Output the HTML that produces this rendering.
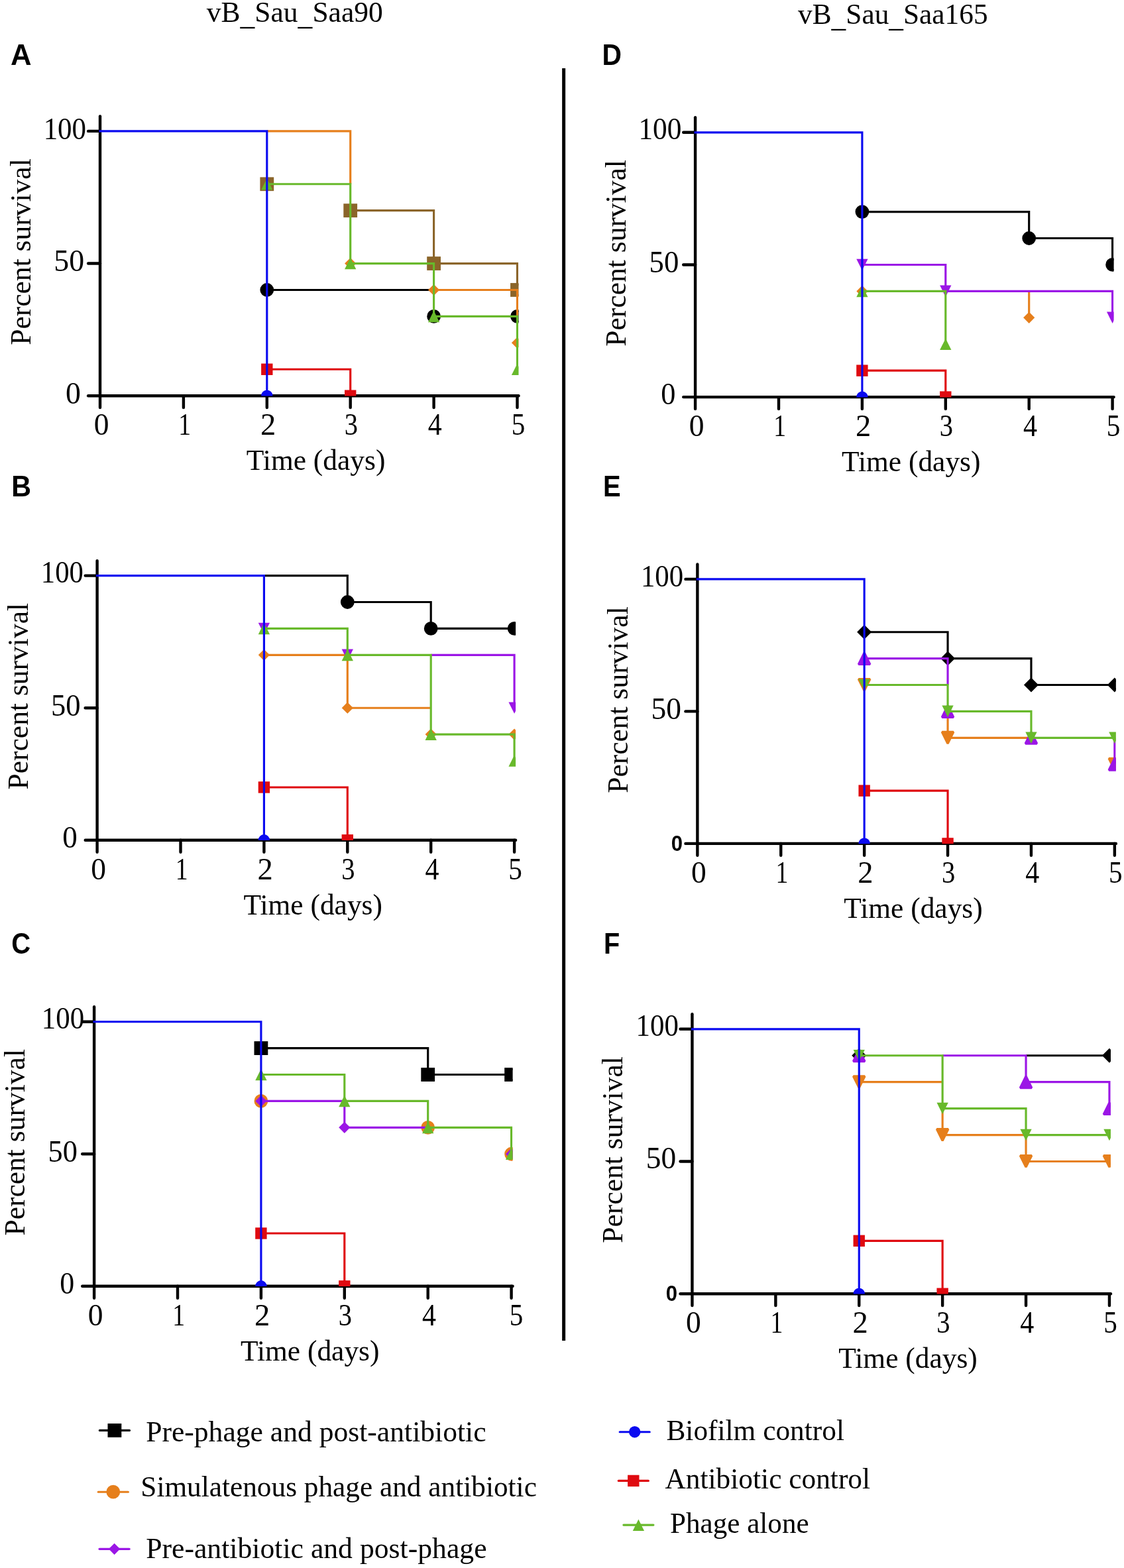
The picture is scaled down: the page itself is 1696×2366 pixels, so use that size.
<!DOCTYPE html>
<html lang="en"><head><meta charset="utf-8"><title>Percent survival: vB_Sau_Saa90 and vB_Sau_Saa165</title>
<style>html,body{margin:0;padding:0;background:#fff}svg{display:block}text{font-family:'Liberation Serif','Times New Roman',serif;font-size:45.3px;fill:#000}.b{font-family:'Liberation Sans',Arial,sans-serif;font-weight:bold}.d{font-size:46px}.l{fill:none;stroke-width:3.15}</style>
</head><body>
<svg xmlns="http://www.w3.org/2000/svg" width="1696" height="2366" viewBox="0 0 1696 2366">
<rect width="1696" height="2366" fill="#fff"/>
<text transform="translate(311.8 33) scale(0.9611 1)">vB<tspan dy="4.3">_</tspan><tspan dy="-4.3">Sau</tspan><tspan dy="4.3">_</tspan><tspan dy="-4.3">Saa90</tspan></text>
<text transform="translate(1204 36) scale(0.9573 1)">vB<tspan dy="4.3">_</tspan><tspan dy="-4.3">Sau</tspan><tspan dy="4.3">_</tspan><tspan dy="-4.3">Saa165</tspan></text>
<line x1="850.65" y1="103.1" x2="850.65" y2="2022.9" stroke="#000" stroke-width="5"/>
<g id="panelA">
<g stroke="#000" stroke-width="4.4" stroke-linecap="round" fill="none">
<path d="M151 175.4V615.1"/>
<path d="M133.1 597.2H782.5"/>
<path d="M133.1 397.55H151"/>
<path d="M133.1 197.9H151"/>
<path d="M276.9 597.2V615.1"/>
<path d="M402.8 597.2V615.1"/>
<path d="M528.7 597.2V615.1"/>
<path d="M654.6 597.2V615.1"/>
<path d="M780.5 597.2V615.1"/>
</g>
<clipPath id="cA"><rect x="121" y="157.9" width="661.5" height="439.6"/></clipPath>
<g clip-path="url(#cA)">
<path class="l" d="M402.8 437.48L654.6 437.48" stroke="#000000"/>
<circle cx="402.8" cy="437.48" r="8.7" fill="#000000" stroke="#000000" stroke-width="3.4" stroke-miterlimit="1.6"/>
<circle cx="654.6" cy="477.41" r="8.7" fill="#000000" stroke="#000000" stroke-width="3.4" stroke-miterlimit="1.6"/>
<circle cx="780.5" cy="477.41" r="8.7" fill="#000000" stroke="#000000" stroke-width="3.4" stroke-miterlimit="1.6"/>
<path class="l" d="M528.7 317.69L654.6 317.69L654.6 397.55L780.5 397.55L780.5 437.48" stroke="#8b652a"/>
<rect x="394.1" y="269.06" width="17.4" height="17.4" fill="#8b652a" stroke="#8b652a" stroke-width="3.4" stroke-miterlimit="1.6"/>
<rect x="520" y="308.99" width="17.4" height="17.4" fill="#8b652a" stroke="#8b652a" stroke-width="3.4" stroke-miterlimit="1.6"/>
<rect x="645.9" y="388.85" width="17.4" height="17.4" fill="#8b652a" stroke="#8b652a" stroke-width="3.4" stroke-miterlimit="1.6"/>
<rect x="771.8" y="428.78" width="17.4" height="17.4" fill="#8b652a" stroke="#8b652a" stroke-width="3.4" stroke-miterlimit="1.6"/>
<path class="l" d="M402.8 197.9L528.7 197.9L528.7 277.76M654.6 437.48L780.5 437.48L780.5 477.41" stroke="#e67f1c"/>
<polygon points="520.1,397.55 528.7,388.95 537.3,397.55 528.7,406.15" fill="#e67f1c"/>
<polygon points="646,437.48 654.6,428.88 663.2,437.48 654.6,446.08" fill="#e67f1c"/>
<polygon points="771.9,517.34 780.5,508.74 789.1,517.34 780.5,525.94" fill="#e67f1c"/>
<path class="l" d="M402.8 277.76L528.7 277.76L528.7 397.55L654.6 397.55L654.6 477.41L780.5 477.41L780.5 557.27" stroke="#68b92b"/>
<polygon points="394.15,286.56 402.8,269.16 411.45,286.56" fill="#68b92b"/>
<polygon points="520.05,406.35 528.7,388.95 537.35,406.35" fill="#68b92b"/>
<polygon points="645.95,486.21 654.6,468.81 663.25,486.21" fill="#68b92b"/>
<polygon points="771.85,566.07 780.5,548.67 789.15,566.07" fill="#68b92b"/>
<path class="l" d="M402.8 557.27L528.7 557.27L528.7 597.2" stroke="#df0a10"/>
<rect x="394.1" y="548.57" width="17.4" height="17.4" fill="#df0a10"/>
<rect x="520" y="588.5" width="17.4" height="17.4" fill="#df0a10"/>
<path class="l" d="M149.43 197.9L402.8 197.9L402.8 597.2" stroke="#0a0af0"/>
<circle cx="402.8" cy="597.2" r="8.7" fill="#0a0af0"/>
</g>
<text transform="translate(65.63 209.6) scale(0.9335 1)" class="d">100</text>
<text transform="translate(81.24 408.9) scale(0.9958 1)" class="d">50</text>
<text transform="translate(98.96 608.5) scale(0.9951 1)" class="d">0</text>
<text transform="translate(141.67 655.9) scale(0.9899 1)" class="d">0</text>
<text transform="translate(278.6 655.9) scale(0.82 1)" text-anchor="middle" class="d">1</text>
<text transform="translate(393.01 655.9) scale(1.0114 1)" class="d">2</text>
<text transform="translate(519.75 655.9) scale(0.8841 1)" class="d">3</text>
<text transform="translate(645.78 655.9) scale(0.9119 1)" class="d">4</text>
<text transform="translate(771.71 655.9) scale(0.8958 1)" class="d">5</text>
<text transform="translate(371.82 709.1) scale(0.959 1)">Time (days)</text>
<text transform="translate(46 520.75) rotate(-90) scale(0.9608 1)">Percent survival</text>
<text transform="translate(16.06 97.85) scale(0.9748 1)" class="b" style="font-size:44.8px">A</text>
</g>
<g id="panelB">
<g stroke="#000" stroke-width="4.4" stroke-linecap="round" fill="none">
<path d="M146.6 846.1V1285.7"/>
<path d="M128.7 1267.8H778.1"/>
<path d="M128.7 1068.2H146.6"/>
<path d="M128.7 868.6H146.6"/>
<path d="M272.5 1267.8V1285.7"/>
<path d="M398.4 1267.8V1285.7"/>
<path d="M524.3 1267.8V1285.7"/>
<path d="M650.2 1267.8V1285.7"/>
<path d="M776.1 1267.8V1285.7"/>
</g>
<clipPath id="cB"><rect x="116.6" y="828.6" width="661.5" height="439.5"/></clipPath>
<g clip-path="url(#cB)">
<path class="l" d="M398.4 868.6L524.3 868.6L524.3 908.52L650.2 908.52L650.2 948.44L776.1 948.44" stroke="#000000"/>
<circle cx="524.3" cy="908.52" r="8.7" fill="#000000" stroke="#000000" stroke-width="3.4" stroke-miterlimit="1.6"/>
<circle cx="650.2" cy="948.44" r="8.7" fill="#000000" stroke="#000000" stroke-width="3.4" stroke-miterlimit="1.6"/>
<circle cx="776.1" cy="948.44" r="8.7" fill="#000000" stroke="#000000" stroke-width="3.4" stroke-miterlimit="1.6"/>
<path class="l" d="M398.4 988.36L524.3 988.36L524.3 1068.2L650.2 1068.2" stroke="#e67f1c"/>
<polygon points="389.8,988.36 398.4,979.76 407,988.36 398.4,996.96" fill="#e67f1c"/>
<polygon points="515.7,1068.2 524.3,1059.6 532.9,1068.2 524.3,1076.8" fill="#e67f1c"/>
<polygon points="641.6,1108.12 650.2,1099.52 658.8,1108.12 650.2,1116.72" fill="#e67f1c"/>
<polygon points="767.5,1108.12 776.1,1099.52 784.7,1108.12 776.1,1116.72" fill="#e67f1c"/>
<path class="l" d="M650.2 988.36L776.1 988.36L776.1 1068.2" stroke="#9b16e6"/>
<polygon points="389.75,939.64 398.4,957.04 407.05,939.64" fill="#9b16e6"/>
<polygon points="515.65,979.56 524.3,996.96 532.95,979.56" fill="#9b16e6"/>
<polygon points="767.45,1059.4 776.1,1076.8 784.75,1059.4" fill="#9b16e6"/>
<path class="l" d="M398.4 948.44L524.3 948.44L524.3 988.36L650.2 988.36L650.2 1108.12L776.1 1108.12L776.1 1148.04" stroke="#68b92b"/>
<polygon points="389.75,957.24 398.4,939.84 407.05,957.24" fill="#68b92b"/>
<polygon points="515.65,997.16 524.3,979.76 532.95,997.16" fill="#68b92b"/>
<polygon points="641.55,1116.92 650.2,1099.52 658.85,1116.92" fill="#68b92b"/>
<polygon points="767.45,1156.84 776.1,1139.44 784.75,1156.84" fill="#68b92b"/>
<path class="l" d="M398.4 1187.96L524.3 1187.96L524.3 1267.8" stroke="#df0a10"/>
<rect x="389.7" y="1179.26" width="17.4" height="17.4" fill="#df0a10"/>
<rect x="515.6" y="1259.1" width="17.4" height="17.4" fill="#df0a10"/>
<path class="l" d="M145.03 868.6L398.4 868.6L398.4 1267.8" stroke="#0a0af0"/>
<circle cx="398.4" cy="1267.8" r="8.7" fill="#0a0af0"/>
</g>
<text transform="translate(61.85 879.2) scale(0.9287 1)" class="d">100</text>
<text transform="translate(76.91 1079.6) scale(0.9693 1)" class="d">50</text>
<text transform="translate(94.28 1278.5) scale(0.9797 1)" class="d">0</text>
<text transform="translate(137.27 1326.5) scale(0.9899 1)" class="d">0</text>
<text transform="translate(274.2 1326.5) scale(0.82 1)" text-anchor="middle" class="d">1</text>
<text transform="translate(388.61 1326.5) scale(1.0114 1)" class="d">2</text>
<text transform="translate(515.35 1326.5) scale(0.8841 1)" class="d">3</text>
<text transform="translate(641.38 1326.5) scale(0.9119 1)" class="d">4</text>
<text transform="translate(767.31 1326.5) scale(0.8958 1)" class="d">5</text>
<text transform="translate(367.42 1379.7) scale(0.959 1)">Time (days)</text>
<text transform="translate(41.6 1191.45) rotate(-90) scale(0.9608 1)">Percent survival</text>
<text transform="translate(17.3 748.9) scale(0.9187 1)" class="b" style="font-size:44.8px">B</text>
</g>
<g id="panelC">
<g stroke="#000" stroke-width="4.4" stroke-linecap="round" fill="none">
<path d="M142.1 1519.2V1958.7"/>
<path d="M124.2 1940.8H773.6"/>
<path d="M124.2 1741.25H142.1"/>
<path d="M124.2 1541.7H142.1"/>
<path d="M268 1940.8V1958.7"/>
<path d="M393.9 1940.8V1958.7"/>
<path d="M519.8 1940.8V1958.7"/>
<path d="M645.7 1940.8V1958.7"/>
<path d="M771.6 1940.8V1958.7"/>
</g>
<clipPath id="cC"><rect x="112.1" y="1501.7" width="661.5" height="439.4"/></clipPath>
<g clip-path="url(#cC)">
<path class="l" d="M393.9 1581.61L645.7 1581.61L645.7 1621.52L771.6 1621.52" stroke="#000000"/>
<rect x="385.2" y="1572.91" width="17.4" height="17.4" fill="#000000" stroke="#000000" stroke-width="3.4" stroke-miterlimit="1.6"/>
<rect x="637" y="1612.82" width="17.4" height="17.4" fill="#000000" stroke="#000000" stroke-width="3.4" stroke-miterlimit="1.6"/>
<rect x="762.9" y="1612.82" width="17.4" height="17.4" fill="#000000" stroke="#000000" stroke-width="3.4" stroke-miterlimit="1.6"/>
<circle cx="393.9" cy="1661.43" r="8.7" fill="#e67f1c" stroke="#e67f1c" stroke-width="3.4" stroke-miterlimit="1.6"/>
<circle cx="645.7" cy="1701.34" r="8.7" fill="#e67f1c" stroke="#e67f1c" stroke-width="3.4" stroke-miterlimit="1.6"/>
<circle cx="771.6" cy="1741.25" r="8.7" fill="#e67f1c" stroke="#e67f1c" stroke-width="3.4" stroke-miterlimit="1.6"/>
<path class="l" d="M393.9 1661.43L519.8 1661.43L519.8 1701.34L645.7 1701.34" stroke="#9b16e6"/>
<polygon points="385.3,1661.43 393.9,1652.83 402.5,1661.43 393.9,1670.03" fill="#9b16e6"/>
<polygon points="511.2,1701.34 519.8,1692.74 528.4,1701.34 519.8,1709.94" fill="#9b16e6"/>
<polygon points="763,1741.25 771.6,1732.65 780.2,1741.25 771.6,1749.85" fill="#9b16e6"/>
<path class="l" d="M393.9 1621.52L519.8 1621.52L519.8 1661.43L645.7 1661.43L645.7 1701.34L771.6 1701.34L771.6 1741.25" stroke="#68b92b"/>
<polygon points="385.25,1630.32 393.9,1612.92 402.55,1630.32" fill="#68b92b"/>
<polygon points="511.15,1670.23 519.8,1652.83 528.45,1670.23" fill="#68b92b"/>
<polygon points="637.05,1710.14 645.7,1692.74 654.35,1710.14" fill="#68b92b"/>
<polygon points="762.95,1750.05 771.6,1732.65 780.25,1750.05" fill="#68b92b"/>
<path class="l" d="M393.9 1860.98L519.8 1860.98L519.8 1940.8" stroke="#df0a10"/>
<rect x="385.2" y="1852.28" width="17.4" height="17.4" fill="#df0a10"/>
<rect x="511.1" y="1932.1" width="17.4" height="17.4" fill="#df0a10"/>
<path class="l" d="M140.53 1541.7L393.9 1541.7L393.9 1940.8" stroke="#0a0af0"/>
<circle cx="393.9" cy="1940.8" r="8.7" fill="#0a0af0"/>
</g>
<text transform="translate(62.83 1552.4) scale(0.9319 1)" class="d">100</text>
<text transform="translate(72.52 1752.5) scale(0.9645 1)" class="d">50</text>
<text transform="translate(90.33 1951.9) scale(0.954 1)" class="d">0</text>
<text transform="translate(132.77 1999.5) scale(0.9899 1)" class="d">0</text>
<text transform="translate(269.7 1999.5) scale(0.82 1)" text-anchor="middle" class="d">1</text>
<text transform="translate(384.11 1999.5) scale(1.0114 1)" class="d">2</text>
<text transform="translate(510.85 1999.5) scale(0.8841 1)" class="d">3</text>
<text transform="translate(636.88 1999.5) scale(0.9119 1)" class="d">4</text>
<text transform="translate(768.71 1999.5) scale(0.8958 1)" class="d">5</text>
<text transform="translate(362.92 2052.7) scale(0.959 1)">Time (days)</text>
<text transform="translate(37.1 1864.55) rotate(-90) scale(0.9608 1)">Percent survival</text>
<text transform="translate(17.37 1438.7) scale(0.8924 1)" class="b" style="font-size:44.8px">C</text>
</g>
<g id="panelD">
<g stroke="#000" stroke-width="4.4" stroke-linecap="round" fill="none">
<path d="M1049.1 177.3V617"/>
<path d="M1031.2 599.1H1680.6"/>
<path d="M1031.2 399.45H1049.1"/>
<path d="M1031.2 199.8H1049.1"/>
<path d="M1175 599.1V617"/>
<path d="M1300.9 599.1V617"/>
<path d="M1426.8 599.1V617"/>
<path d="M1552.7 599.1V617"/>
<path d="M1678.6 599.1V617"/>
</g>
<clipPath id="cD"><rect x="1019.1" y="159.8" width="661.5" height="439.6"/></clipPath>
<g clip-path="url(#cD)">
<path class="l" d="M1300.9 319.59L1552.7 319.59L1552.7 359.52L1678.6 359.52L1678.6 399.45" stroke="#000000"/>
<circle cx="1300.9" cy="319.59" r="8.7" fill="#000000" stroke="#000000" stroke-width="3.4" stroke-miterlimit="1.6"/>
<circle cx="1552.7" cy="359.52" r="8.7" fill="#000000" stroke="#000000" stroke-width="3.4" stroke-miterlimit="1.6"/>
<circle cx="1678.6" cy="399.45" r="8.7" fill="#000000" stroke="#000000" stroke-width="3.4" stroke-miterlimit="1.6"/>
<path class="l" d="M1552.7 439.38L1552.7 479.31" stroke="#e67f1c"/>
<polygon points="1292.3,439.38 1300.9,430.78 1309.5,439.38 1300.9,447.98" fill="#e67f1c"/>
<polygon points="1544.1,479.31 1552.7,470.71 1561.3,479.31 1552.7,487.91" fill="#e67f1c"/>
<path class="l" d="M1300.9 399.45L1426.8 399.45L1426.8 439.38L1678.6 439.38L1678.6 479.31" stroke="#9b16e6"/>
<polygon points="1292.25,390.65 1300.9,408.05 1309.55,390.65" fill="#9b16e6"/>
<polygon points="1418.15,430.58 1426.8,447.98 1435.45,430.58" fill="#9b16e6"/>
<polygon points="1669.95,470.51 1678.6,487.91 1687.25,470.51" fill="#9b16e6"/>
<path class="l" d="M1300.9 439.38L1426.8 439.38L1426.8 519.24" stroke="#68b92b"/>
<polygon points="1292.25,448.18 1300.9,430.78 1309.55,448.18" fill="#68b92b"/>
<polygon points="1418.15,528.04 1426.8,510.64 1435.45,528.04" fill="#68b92b"/>
<path class="l" d="M1300.9 559.17L1426.8 559.17L1426.8 599.1" stroke="#df0a10"/>
<rect x="1292.2" y="550.47" width="17.4" height="17.4" fill="#df0a10"/>
<rect x="1418.1" y="590.4" width="17.4" height="17.4" fill="#df0a10"/>
<path class="l" d="M1047.52 199.8L1300.9 199.8L1300.9 599.1" stroke="#0a0af0"/>
<circle cx="1300.9" cy="599.1" r="8.7" fill="#0a0af0"/>
</g>
<text transform="translate(963.39 210.4) scale(0.9414 1)" class="d">100</text>
<text transform="translate(979.5 410.9) scale(0.9741 1)" class="d">50</text>
<text transform="translate(997.31 610.4) scale(0.9643 1)" class="d">0</text>
<text transform="translate(1039.77 657.8) scale(0.9899 1)" class="d">0</text>
<text transform="translate(1176.7 657.8) scale(0.82 1)" text-anchor="middle" class="d">1</text>
<text transform="translate(1291.11 657.8) scale(1.0114 1)" class="d">2</text>
<text transform="translate(1417.85 657.8) scale(0.8841 1)" class="d">3</text>
<text transform="translate(1543.88 657.8) scale(0.9119 1)" class="d">4</text>
<text transform="translate(1669.81 657.8) scale(0.8958 1)" class="d">5</text>
<text transform="translate(1269.92 711) scale(0.959 1)">Time (days)</text>
<text transform="translate(944.1 522.65) rotate(-90) scale(0.9608 1)">Percent survival</text>
<text transform="translate(908.58 97.85) scale(0.9114 1)" class="b" style="font-size:44.8px">D</text>
</g>
<g id="panelE">
<g stroke="#000" stroke-width="4.4" stroke-linecap="round" fill="none">
<path d="M1052.35 851.4V1290.8"/>
<path d="M1034.45 1272.9H1683.85"/>
<path d="M1034.45 1073.4H1052.35"/>
<path d="M1034.45 873.9H1052.35"/>
<path d="M1178.25 1272.9V1290.8"/>
<path d="M1304.15 1272.9V1290.8"/>
<path d="M1430.05 1272.9V1290.8"/>
<path d="M1555.95 1272.9V1290.8"/>
<path d="M1681.85 1272.9V1290.8"/>
</g>
<clipPath id="cE"><rect x="1022.35" y="833.9" width="661.5" height="439.3"/></clipPath>
<g clip-path="url(#cE)">
<path class="l" d="M1304.15 953.7L1430.05 953.7L1430.05 993.6L1555.95 993.6L1555.95 1033.5L1681.85 1033.5" stroke="#000000"/>
<polygon points="1295.55,953.7 1304.15,945.1 1312.75,953.7 1304.15,962.3" fill="#000000" stroke="#000000" stroke-width="3.4" stroke-miterlimit="1.6"/>
<polygon points="1421.45,993.6 1430.05,985 1438.65,993.6 1430.05,1002.2" fill="#000000" stroke="#000000" stroke-width="3.4" stroke-miterlimit="1.6"/>
<polygon points="1547.35,1033.5 1555.95,1024.9 1564.55,1033.5 1555.95,1042.1" fill="#000000" stroke="#000000" stroke-width="3.4" stroke-miterlimit="1.6"/>
<polygon points="1673.25,1033.5 1681.85,1024.9 1690.45,1033.5 1681.85,1042.1" fill="#000000" stroke="#000000" stroke-width="3.4" stroke-miterlimit="1.6"/>
<path class="l" d="M1430.05 1073.4L1430.05 1113.3L1555.95 1113.3" stroke="#e67f1c"/>
<polygon points="1295.5,1024.7 1304.15,1042.1 1312.8,1024.7" fill="#e67f1c" stroke="#e67f1c" stroke-width="3.4" stroke-miterlimit="1.6"/>
<polygon points="1421.4,1104.5 1430.05,1121.9 1438.7,1104.5" fill="#e67f1c" stroke="#e67f1c" stroke-width="3.4" stroke-miterlimit="1.6"/>
<polygon points="1673.2,1144.4 1681.85,1161.8 1690.5,1144.4" fill="#e67f1c" stroke="#e67f1c" stroke-width="3.4" stroke-miterlimit="1.6"/>
<path class="l" d="M1304.15 993.6L1430.05 993.6L1430.05 1033.5M1681.85 1113.3L1681.85 1153.2" stroke="#9b16e6"/>
<polygon points="1295.5,1002.4 1304.15,985 1312.8,1002.4" fill="#9b16e6" stroke="#9b16e6" stroke-width="3.4" stroke-miterlimit="1.6"/>
<polygon points="1421.4,1082.2 1430.05,1064.8 1438.7,1082.2" fill="#9b16e6" stroke="#9b16e6" stroke-width="3.4" stroke-miterlimit="1.6"/>
<polygon points="1547.3,1122.1 1555.95,1104.7 1564.6,1122.1" fill="#9b16e6" stroke="#9b16e6" stroke-width="3.4" stroke-miterlimit="1.6"/>
<polygon points="1673.2,1162 1681.85,1144.6 1690.5,1162" fill="#9b16e6" stroke="#9b16e6" stroke-width="3.4" stroke-miterlimit="1.6"/>
<path class="l" d="M1304.15 1033.5L1430.05 1033.5L1430.05 1073.4L1555.95 1073.4L1555.95 1113.3L1681.85 1113.3" stroke="#68b92b"/>
<polygon points="1295.5,1024.7 1304.15,1042.1 1312.8,1024.7" fill="#68b92b"/>
<polygon points="1421.4,1064.6 1430.05,1082 1438.7,1064.6" fill="#68b92b"/>
<polygon points="1547.3,1104.5 1555.95,1121.9 1564.6,1104.5" fill="#68b92b"/>
<polygon points="1673.2,1104.5 1681.85,1121.9 1690.5,1104.5" fill="#68b92b"/>
<path class="l" d="M1304.15 1193.1L1430.05 1193.1L1430.05 1272.9" stroke="#df0a10"/>
<rect x="1295.45" y="1184.4" width="17.4" height="17.4" fill="#df0a10"/>
<rect x="1421.35" y="1264.2" width="17.4" height="17.4" fill="#df0a10"/>
<path class="l" d="M1050.77 873.9L1304.15 873.9L1304.15 1272.9" stroke="#0a0af0"/>
<circle cx="1304.15" cy="1272.9" r="8.7" fill="#0a0af0"/>
</g>
<text transform="translate(966.93 885.4) scale(0.9319 1)" class="d">100</text>
<text transform="translate(982.46 1084.9) scale(0.9886 1)" class="d">50</text>
<text transform="translate(1012.87 1283.7) scale(0.9635 1)" class="b" style="font-size:32.3px">0</text>
<text transform="translate(1043.02 1331.6) scale(0.9899 1)" class="d">0</text>
<text transform="translate(1179.95 1331.6) scale(0.82 1)" text-anchor="middle" class="d">1</text>
<text transform="translate(1294.36 1331.6) scale(1.0114 1)" class="d">2</text>
<text transform="translate(1421.1 1331.6) scale(0.8841 1)" class="d">3</text>
<text transform="translate(1547.13 1331.6) scale(0.9119 1)" class="d">4</text>
<text transform="translate(1673.06 1331.6) scale(0.8958 1)" class="d">5</text>
<text transform="translate(1273.17 1384.8) scale(0.959 1)">Time (days)</text>
<text transform="translate(947.35 1196.75) rotate(-90) scale(0.9608 1)">Percent survival</text>
<text transform="translate(909.88 748.9) scale(0.8912 1)" class="b" style="font-size:44.8px">E</text>
</g>
<g id="panelF">
<g stroke="#000" stroke-width="4.4" stroke-linecap="round" fill="none">
<path d="M1044.45 1530.3V1970.1"/>
<path d="M1026.55 1952.2H1675.95"/>
<path d="M1026.55 1752.5H1044.45"/>
<path d="M1026.55 1552.8H1044.45"/>
<path d="M1170.35 1952.2V1970.1"/>
<path d="M1296.25 1952.2V1970.1"/>
<path d="M1422.15 1952.2V1970.1"/>
<path d="M1548.05 1952.2V1970.1"/>
<path d="M1673.95 1952.2V1970.1"/>
</g>
<clipPath id="cF"><rect x="1014.45" y="1512.8" width="661.5" height="439.7"/></clipPath>
<g clip-path="url(#cF)">
<path class="l" d="M1548.05 1592.74L1673.95 1592.74" stroke="#000000"/>
<polygon points="1287.65,1592.74 1296.25,1584.14 1304.85,1592.74 1296.25,1601.34" fill="#000000" stroke="#000000" stroke-width="3.4" stroke-miterlimit="1.6"/>
<polygon points="1665.35,1592.74 1673.95,1584.14 1682.55,1592.74 1673.95,1601.34" fill="#000000" stroke="#000000" stroke-width="3.4" stroke-miterlimit="1.6"/>
<path class="l" d="M1296.25 1632.68L1422.15 1632.68M1422.15 1672.62L1422.15 1712.56L1548.05 1712.56L1548.05 1752.5L1673.95 1752.5" stroke="#e67f1c"/>
<polygon points="1287.6,1623.88 1296.25,1641.28 1304.9,1623.88" fill="#e67f1c" stroke="#e67f1c" stroke-width="3.4" stroke-miterlimit="1.6"/>
<polygon points="1413.5,1703.76 1422.15,1721.16 1430.8,1703.76" fill="#e67f1c" stroke="#e67f1c" stroke-width="3.4" stroke-miterlimit="1.6"/>
<polygon points="1539.4,1743.7 1548.05,1761.1 1556.7,1743.7" fill="#e67f1c" stroke="#e67f1c" stroke-width="3.4" stroke-miterlimit="1.6"/>
<polygon points="1665.3,1743.7 1673.95,1761.1 1682.6,1743.7" fill="#e67f1c" stroke="#e67f1c" stroke-width="3.4" stroke-miterlimit="1.6"/>
<path class="l" d="M1422.15 1592.74L1548.05 1592.74L1548.05 1632.68L1673.95 1632.68L1673.95 1672.62" stroke="#9b16e6"/>
<polygon points="1287.6,1601.54 1296.25,1584.14 1304.9,1601.54" fill="#9b16e6" stroke="#9b16e6" stroke-width="3.4" stroke-miterlimit="1.6"/>
<polygon points="1539.4,1641.48 1548.05,1624.08 1556.7,1641.48" fill="#9b16e6" stroke="#9b16e6" stroke-width="3.4" stroke-miterlimit="1.6"/>
<polygon points="1665.3,1681.42 1673.95,1664.02 1682.6,1681.42" fill="#9b16e6" stroke="#9b16e6" stroke-width="3.4" stroke-miterlimit="1.6"/>
<path class="l" d="M1296.25 1592.74L1422.15 1592.74L1422.15 1672.62L1548.05 1672.62L1548.05 1712.56L1673.95 1712.56" stroke="#68b92b"/>
<polygon points="1287.6,1583.94 1296.25,1601.34 1304.9,1583.94" fill="#68b92b"/>
<polygon points="1413.5,1663.82 1422.15,1681.22 1430.8,1663.82" fill="#68b92b"/>
<polygon points="1539.4,1703.76 1548.05,1721.16 1556.7,1703.76" fill="#68b92b"/>
<polygon points="1665.3,1703.76 1673.95,1721.16 1682.6,1703.76" fill="#68b92b"/>
<path class="l" d="M1296.25 1872.32L1422.15 1872.32L1422.15 1952.2" stroke="#df0a10"/>
<rect x="1287.55" y="1863.62" width="17.4" height="17.4" fill="#df0a10"/>
<rect x="1413.45" y="1943.5" width="17.4" height="17.4" fill="#df0a10"/>
<path class="l" d="M1042.88 1552.8L1296.25 1552.8L1296.25 1952.2" stroke="#0a0af0"/>
<circle cx="1296.25" cy="1952.2" r="8.7" fill="#0a0af0"/>
</g>
<text transform="translate(959.53 1563.3) scale(0.9319 1)" class="d">100</text>
<text transform="translate(974.86 1763.3) scale(0.9886 1)" class="d">50</text>
<text transform="translate(1004.87 1963) scale(0.9635 1)" class="b" style="font-size:32.3px">0</text>
<text transform="translate(1035.12 2010.9) scale(0.9899 1)" class="d">0</text>
<text transform="translate(1172.05 2010.9) scale(0.82 1)" text-anchor="middle" class="d">1</text>
<text transform="translate(1286.46 2010.9) scale(1.0114 1)" class="d">2</text>
<text transform="translate(1413.2 2010.9) scale(0.8841 1)" class="d">3</text>
<text transform="translate(1539.23 2010.9) scale(0.9119 1)" class="d">4</text>
<text transform="translate(1665.16 2010.9) scale(0.8958 1)" class="d">5</text>
<text transform="translate(1265.27 2064.1) scale(0.959 1)">Time (days)</text>
<text transform="translate(939.45 1875.65) rotate(-90) scale(0.9608 1)">Percent survival</text>
<text transform="translate(911.1 1438.7) scale(0.8844 1)" class="b" style="font-size:44.8px">F</text>
</g>
<g>
<line x1="150.38" y1="2158.4" x2="195.43" y2="2158.4" stroke="#000000" stroke-width="3.15" stroke-linecap="round"/>
<rect x="164.2" y="2149.7" width="17.4" height="17.4" fill="#000000" stroke="#000000" stroke-width="3.4" stroke-miterlimit="1.6"/>
<text transform="translate(220.14 2174.8) scale(0.9629 1)">Pre-phage and post-antibiotic</text>
</g>
<g>
<line x1="148.28" y1="2251.2" x2="193.33" y2="2251.2" stroke="#e67f1c" stroke-width="3.15" stroke-linecap="round"/>
<circle cx="170.8" cy="2251.2" r="8.7" fill="#e67f1c" stroke="#e67f1c" stroke-width="3.4" stroke-miterlimit="1.6"/>
<text transform="translate(212.3 2258.1) scale(0.9561 1)">Simulatenous phage and antibiotic</text>
</g>
<g>
<line x1="150.07" y1="2337.3" x2="195.12" y2="2337.3" stroke="#9b16e6" stroke-width="3.15" stroke-linecap="round"/>
<polygon points="164,2337.3 172.6,2328.7 181.2,2337.3 172.6,2345.9" fill="#9b16e6"/>
<text transform="translate(220.14 2350.7) scale(0.9647 1)">Pre-antibiotic and post-phage</text>
</g>
<g>
<line x1="935.18" y1="2160.7" x2="980.23" y2="2160.7" stroke="#0a0af0" stroke-width="3.15" stroke-linecap="round"/>
<circle cx="957.7" cy="2160.7" r="8.7" fill="#0a0af0"/>
<text transform="translate(1005.45 2172.8) scale(0.9574 1)">Biofilm control</text>
</g>
<g>
<line x1="933.27" y1="2234.4" x2="978.32" y2="2234.4" stroke="#df0a10" stroke-width="3.15" stroke-linecap="round"/>
<rect x="947.1" y="2225.7" width="17.4" height="17.4" fill="#df0a10"/>
<text transform="translate(1003.48 2246.2) scale(0.9578 1)">Antibiotic control</text>
</g>
<g>
<line x1="940.88" y1="2301.1" x2="985.92" y2="2301.1" stroke="#68b92b" stroke-width="3.15" stroke-linecap="round"/>
<polygon points="954.75,2309.9 963.4,2292.5 972.05,2309.9" fill="#68b92b"/>
<text transform="translate(1011.06 2313.3) scale(0.9523 1)">Phage alone</text>
</g>
</svg>
</body></html>
